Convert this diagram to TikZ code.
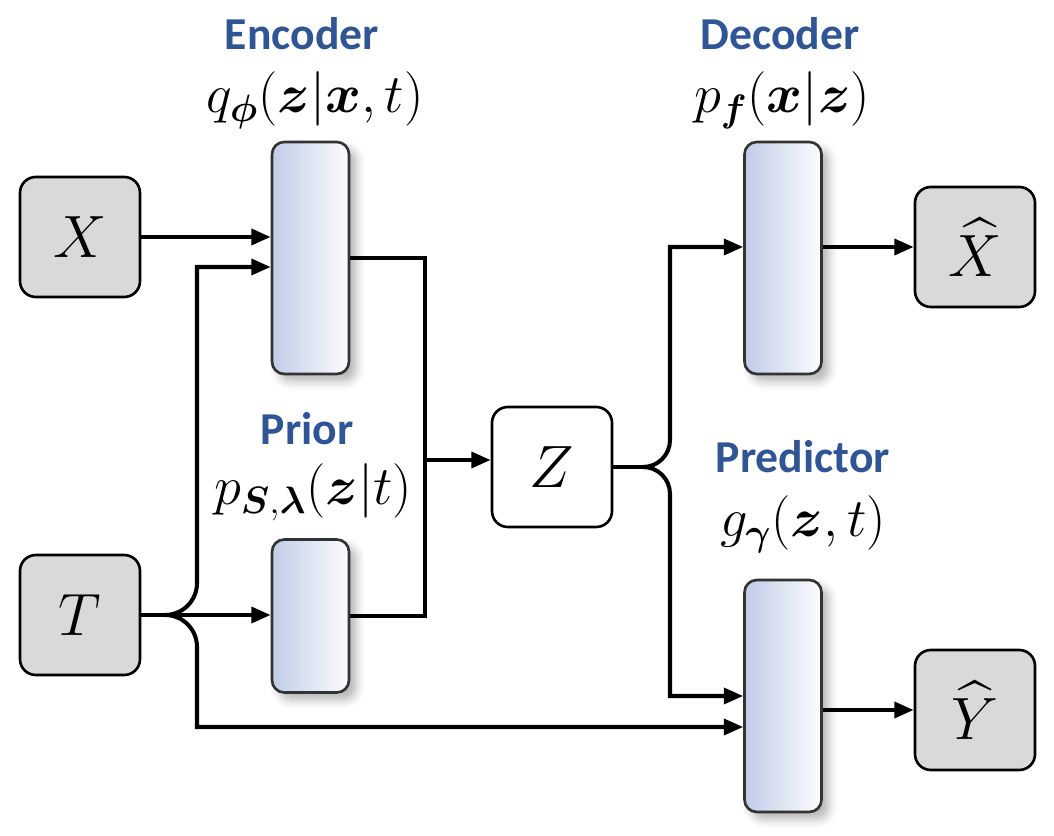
\RequirePackage{fix-cm}
\documentclass[tikz,border=0pt]{standalone}
\usepackage{amsmath,amssymb}
\usepackage{fontspec}
\setsansfont{Carlito}
\usepackage{xcolor}
\usepackage{tikz}
\usetikzlibrary{arrows.meta,positioning,shadows.blur}

\definecolor{titleblue}{RGB}{47,85,151}
\definecolor{barblue}{RGB}{192,205,232}
\definecolor{boxgray}{RGB}{217,217,217}

\begin{document}
\begin{tikzpicture}[line width=2.3pt,
    >={Triangle[length=11pt,width=9pt]},
    var/.style={draw, line width=1.5pt, rounded corners=9pt, fill=boxgray,
      minimum size=2.4cm, font=\fontsize{34}{34}\selectfont},
    layer/.style={draw=black!80, line width=1.5pt, rounded corners=7pt,
      left color=barblue, right color=white!95!barblue, minimum width=1.54cm,
      blur shadow={shadow xshift=4pt, shadow yshift=-4pt,
        shadow blur radius=5pt, shadow opacity=30}},
    title/.style={anchor=base, text=titleblue,
      font=\sffamily\bfseries\fontsize{26}{30}\selectfont},
    dist/.style={anchor=base, font=\fontsize{31}{34}\selectfont}]
  \useasboundingbox (0,0) rectangle (21.08,16.72);

  % variables
  \node[var] (X) at (1.6,11.98) {$X$};
  \node[var] (T) at (1.6,4.42) {$T$};
  \node[var, fill=white] (Z) at (11.04,7.38) {$Z$};
  \node[var] (Xh) at (19.5,11.78) {$\widehat{X}$};
  \node[var] (Yh) at (19.5,2.52) {$\widehat{Y}$};

  % networks
  \node[layer, minimum height=4.64cm] (enc) at (6.21,11.56) {};
  \node[layer, minimum height=3.06cm] (prior) at (6.21,4.40) {};
  \node[layer, minimum height=4.64cm] (dec) at (15.66,11.56) {};
  \node[layer, minimum height=4.64cm] (pred) at (15.66,2.80) {};

  \node[title] (encname) at (6.04,15.72) {Encoder};
  \node[dist] (encdist) at (6.3,14.46)
    {$q_{\boldsymbol{\phi}}(\boldsymbol{z}|\boldsymbol{x},t)$};
  \node[title] (decname) at (15.6,15.72) {Decoder};
  \node[dist] (decdist) at (15.64,14.46)
    {$p_{\boldsymbol{f}}(\boldsymbol{x}|\boldsymbol{z})$};
  \node[title] (priorname) at (6.14,7.82) {Prior};
  \node[dist] (priordist) at (6.26,6.62)
    {$p_{\boldsymbol{S},\boldsymbol{\lambda}}(\boldsymbol{z}|t)$};
  \node[title] (predname) at (16.06,7.26) {Predictor};
  \node[dist] (preddist) at (16.06,5.98)
    {$g_{\boldsymbol{\gamma}}(\boldsymbol{z},t)$};

  \coordinate (tsplit) at (3.3,4.42);
  \coordinate (merge) at (8.5,7.52);
  \coordinate (zsplit) at (12.86,7.38);

  % connections
  \draw[->] (X.east) -- (X.east -| enc.west);
  \draw[->] (T.east) -- (T.east -| prior.west);
  \draw[->] (tsplit) to[out=0,in=-90] ++(0.64,0.64) |- ([yshift=-0.18cm]enc.west);
  \draw[->] (tsplit) to[out=0,in=90] ++(0.64,-0.64) |- ([yshift=-0.62cm]pred.west);
  \draw (enc.east) -| (merge) |- (prior.east);
  \draw[->] (merge) -- (merge -| Z.west);
  \draw (Z.east) -- (zsplit);
  \draw[->] (zsplit) to[out=0,in=-90] ++(0.54,0.54) |- (Xh.west -| dec.west);
  \draw[->] (zsplit) to[out=0,in=90] ++(0.54,-0.54) |- (pred.west);
  \draw[->] (dec.east |- Xh.west) -- (Xh.west);
  \draw[->] (pred.east |- Yh.west) -- (Yh.west);
\end{tikzpicture}
\end{document}
